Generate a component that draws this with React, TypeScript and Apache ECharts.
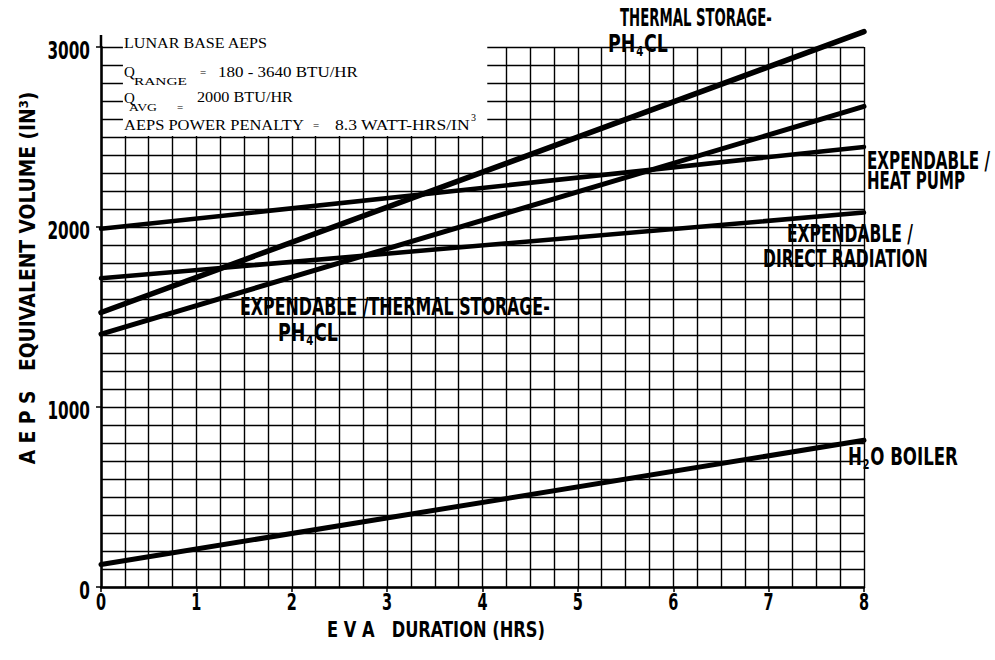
import React, { useEffect, useRef } from 'react';
import * as echarts from 'echarts';

// ---- data ----
const hours = [0, 8];
const thermalStorage = [1525, 3085];
const expendableThermalStorage = [1405, 2670];
const expendableHeatPump = [1990, 2445];
const expendableDirectRadiation = [1715, 2080];
const h2oBoiler = [125, 815];
const xTickLabels = ['0', '1', '2', '3', '4', '5', '6', '7', '8'];
const yTickLabels = ['0', '1000', '2000', '3000'];

const COND = '"Liberation Sans Narrow", "DejaVu Sans Condensed", "Arial Narrow", "Liberation Sans", sans-serif';
const SERIF = '"Liberation Serif", "DejaVu Serif", serif';

let ctx: CanvasRenderingContext2D | null = null;
function measure(text: string, font: string): number {
  if (!ctx) ctx = document.createElement('canvas').getContext('2d');
  if (!ctx) return text.length * 10;
  ctx.font = font;
  return ctx.measureText(text).width;
}

function condText(text: string, x: number, y: number, w: number, size = 24, rotation = 0, align = 'left', sxFixed?: number) {
  const font = `bold ${size}px ${COND}`;
  const sx = sxFixed ?? w / measure(text, font);
  return {
    type: 'text', x, y, rotation, scaleX: sx, z: 10,
    style: {
      text, fill: '#000', font, fontSize: size, fontWeight: 'bold', fontFamily: COND,
      align, textAlign: align, verticalAlign: 'middle', textVerticalAlign: 'middle',
    },
  };
}

function condSub(a: string, sub: string, b: string, x: number, y: number, w: number, size = 24) {
  const font = `bold ${size}px ${COND}`;
  const subSize = Math.round(size * 0.6);
  const subFont = `bold ${subSize}px ${COND}`;
  const total = measure(a, font) + measure(sub, subFont) + measure(b, font) + 2;
  const sx = w / total;
  return {
    type: 'text', x, y, scaleX: sx, z: 10,
    style: {
      text: `{m|${a}}{s|${sub}}{m|${b}}`,
      fill: '#000', align: 'left', textAlign: 'left', verticalAlign: 'middle', textVerticalAlign: 'middle',
      rich: {
        m: { fontSize: size, fontWeight: 'bold', fontFamily: COND, lineHeight: size + 4, verticalAlign: 'middle', fill: '#000', color: '#000' },
        s: { fontSize: subSize, fontWeight: 'bold', fontFamily: COND, lineHeight: subSize, verticalAlign: 'bottom', padding: [0, 1, 0, 1], fill: '#000', color: '#000' },
      },
    },
  };
}

function serifText(text: string, x: number, y: number, size: number, w?: number) {
  const font = `${size}px ${SERIF}`;
  const sx = w ? w / measure(text, font) : 1;
  return {
    type: 'text', x, y, scaleX: sx, z: 10,
    style: {
      text, fill: '#000', font, fontSize: size, fontFamily: SERIF,
      align: 'left', textAlign: 'left', verticalAlign: 'middle', textVerticalAlign: 'middle',
    },
  };
}

const gridLine = { color: '#000', width: 1.4 };

function lineSeries(name: string, values: number[], width: number) {
  return {
    name, type: 'line', symbol: 'none', clip: false, z: 5,
    data: hours.map((h, i) => [h, values[i]]),
    lineStyle: { color: '#000', width, cap: 'round' },
  };
}

export default function App() {
  const ref = useRef<HTMLDivElement>(null);
  useEffect(() => {
    if (!ref.current) return;
    const chart = echarts.init(ref.current, null, { renderer: 'svg' });
    chart.setOption({
      animation: false,
      backgroundColor: '#fff',
      grid: { left: 101, right: 131, top: 47, bottom: 73, containLabel: false },
      xAxis: {
        type: 'value', min: 0, max: 8, interval: 1,
        axisLine: { show: true, onZero: false, lineStyle: { color: '#000', width: 2.5 } },
        axisTick: { show: true, length: 5, lineStyle: { color: '#000', width: 1.5 } },
        axisLabel: { show: false },
        splitLine: { show: true, lineStyle: gridLine },
        minorTick: { show: false, splitNumber: 4 },
        minorSplitLine: { show: true, lineStyle: gridLine },
      },
      yAxis: {
        type: 'value', min: 0, max: 3000, interval: 1000,
        axisLine: { show: true, onZero: false, lineStyle: { color: '#000', width: 2.5 } },
        axisTick: { show: true, length: 5, lineStyle: { color: '#000', width: 1.5 } },
        axisLabel: { show: false },
        splitLine: { show: true, lineStyle: gridLine },
        minorTick: { show: false, splitNumber: 10 },
        minorSplitLine: { show: true, lineStyle: gridLine },
      },
      series: [
        lineSeries('THERMAL STORAGE - PH4CL', thermalStorage, 5.5),
        lineSeries('EXPENDABLE / THERMAL STORAGE - PH4CL', expendableThermalStorage, 5),
        lineSeries('EXPENDABLE / HEAT PUMP', expendableHeatPump, 4.5),
        lineSeries('EXPENDABLE / DIRECT RADIATION', expendableDirectRadiation, 4.5),
        lineSeries('H2O BOILER', h2oBoiler, 5),
      ],
    });

    const px = (x: number, y: number) => chart.convertToPixel({ gridIndex: 0 }, [x, y]) as number[];
    const a = px(0.23, 2505);
    const b = px(4.05, 3000);
    const o = px(0, 3000);

    // tick labels placed through the axis scales
    const xLabels = xTickLabels.map((l) => {
      const p = px(Number(l), 0);
      return condText(l, p[0], p[1] + 15, 0, 23, 0, 'center', 0.7);
    });
    const yLabels = yTickLabels.map((l) => {
      const p = px(0, Number(l));
      return condText(l, p[0] - 11, p[1] + 3, 0, 25, 0, 'right', 0.68);
    });

    chart.setOption({
      graphic: [
        { type: 'rect', z: 3, silent: true, shape: { x: a[0], y: b[1] - 14, width: b[0] - a[0], height: a[1] - b[1] + 14 }, style: { fill: '#fff' } },
        { type: 'line', z: 4, silent: true, shape: { x1: o[0], y1: o[1] - 12, x2: o[0], y2: o[1] }, style: { stroke: '#000', lineWidth: 2.5 } },
        ...xLabels,
        ...yLabels,
        // annotation block
        serifText('LUNAR BASE AEPS', 124, 43, 15, 144),
        serifText('Q', 124, 72, 15),
        serifText('RANGE', 134, 81, 11, 53),
        serifText('=', 200, 72, 11),
        serifText('180 - 3640 BTU/HR', 218, 72, 14, 140),
        serifText('Q', 124, 98, 15),
        serifText('AVG', 129, 107, 11, 28),
        serifText('=', 177, 107, 11),
        serifText('2000 BTU/HR', 197, 97, 14, 96),
        serifText('AEPS POWER PENALTY', 124, 125, 15, 180),
        serifText('=', 313, 125, 11),
        serifText('8.3 WATT-HRS/IN', 335, 125, 14, 135),
        serifText('3', 471, 117, 10),
        // curve labels
        condText('THERMAL STORAGE-', 620, 18, 152),
        condSub('PH', '4', 'CL', 608, 44, 60),
        condText('EXPENDABLE /', 867, 161, 123),
        condText('HEAT PUMP', 867, 181, 98),
        condText('EXPENDABLE /', 787, 234, 126),
        condText('DIRECT RADIATION', 763, 259, 165),
        condText('EXPENDABLE /THERMAL STORAGE-', 240, 306, 310),
        condSub('PH', '4', 'CL', 278, 333, 60),
        condSub('H', '2', 'O BOILER', 848, 457, 110),
        // axis titles
        condText('E V A   DURATION (HRS)', 436, 630, 218, 21, 0, 'center'),
        condText('A E P S   EQUIVALENT VOLUME (IN³)', 27, 278, 373, 22, Math.PI / 2, 'center'),
      ],
    });
    return () => chart.dispose();
  }, []);
  return <div ref={ref} style={{ position: 'fixed', left: 0, top: 0, width: 995, height: 660, background: '#fff' }} />;
}
